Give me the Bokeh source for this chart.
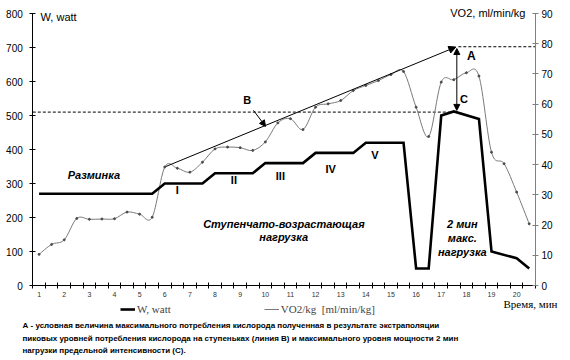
import numpy as np
from bokeh.plotting import figure
from bokeh.models import (Range1d, LinearAxis, FixedTicker, Label, Arrow, NormalHead,
                          Legend, LegendItem, ColumnDataSource)
from bokeh.embed import file_html
from bokeh.resources import INLINE

# ---------------- data ----------------
w_time = [1, 5.5, 6, 7.5, 8, 9.5, 10, 11.5, 12, 13.5, 14, 15.5, 16, 16.5, 17, 17.5, 18.5, 19, 20, 20.5]
w_watt = [270, 270, 300, 300, 330, 330, 360, 360, 390, 390, 420, 420, 50, 50, 500, 512, 490, 100, 80, 50]

vo2_time = [1, 1.5, 2, 2.5, 3, 3.5, 4, 4.5, 5, 5.5, 6, 6.5, 7, 7.5, 8, 8.5, 9, 9.5, 10, 10.5,
            11, 11.5, 12, 12.5, 13, 13.5, 14, 14.5, 15, 15.5, 16, 16.5, 17, 17.5, 18, 18.5,
            19, 19.5, 20, 20.5]
vo2_val = [10.3, 13.6, 15.1, 22.2, 21.9, 22.0, 22.1, 24.3, 23.6, 22.6, 39.2, 38.8, 37.5, 40.8,
           45.2, 45.8, 45.6, 44.7, 47.5, 53.8, 55.2, 51.6, 59.0, 60.1, 61.2, 64.5, 66.2, 67.8,
           69.8, 70.8, 59.0, 49.3, 67.3, 68.1, 70.4, 69.3, 44.1, 40.3, 30.9, 20.4]

x_ticks = list(range(1, 21))
w_ticks = list(range(0, 801, 100))
vo2_ticks = list(range(0, 91, 10))

stage_names = ["I", "II", "III", "IV", "V"]
stage_t = [6.5, 8.75, 10.6, 12.6, 14.36]
stage_w = [281, 309, 323, 343, 385]

line_b_t = [6.05, 17.58]
line_b_vo2 = [39.4, 78.9]
b_ptr_t = [9.53, 10.01]
b_ptr_w = [515, 468]
a_arrow_t = 17.62
a_arrow_w = [697, 515]
w_max_dash = 510
vo2_a_dash = 79

caption = [
    "А - условная величина максимального потребления кислорода полученная в результате экстраполяции",
    "пиковых уровней потребления кислорода  на ступеньках (линия В) и максимального уровня мощности 2 мин",
    "нагрузки предельной интенсивности (С).",
]

SANS = "Liberation Sans"
SERIF = "Liberation Serif"
VO2_COL = "#7a7a7a"
VO2_PT = "#4a4a4a"
NAN = float("nan")

# ---------------- layout calibration (pixels of the page) ----------------
CW, CH = 566, 358                  # canvas size; the frame fills the whole canvas
AX_L, AX_R = 32.3, 535.0           # pixel x of time 0.75 and 20.75
AX_B, AX_T = 285.0, 13.0           # pixel y of 0 and of the top tick (800 W / 90 VO2)
PX_T = (AX_R - AX_L) / 20.0
PX_W = (AX_B - AX_T) / 800.0
PX_V = (AX_B - AX_T) / 90.0


def t_of(px):
    return 0.75 + (px - AX_L) / PX_T


def w_of(py):
    return (AX_B - py) / PX_W


p = figure(width=CW, height=CH, x_range=Range1d(t_of(0), t_of(CW)), y_range=Range1d(w_of(CH), w_of(0)),
           output_backend="svg", toolbar_location=None,
           min_border_left=0, min_border_right=0, min_border_top=0, min_border_bottom=0)
p.extra_y_ranges = {"vo2": Range1d(-(CH - AX_B) / PX_V, AX_B / PX_V)}
p.title.visible = False
p.grid.visible = False
p.outline_line_color = None

xa = p.xaxis[0]
xa.fixed_location = 0
xa.bounds = (0.75, 20.75)
xa.ticker = FixedTicker(ticks=x_ticks, minor_ticks=[0.75 + 0.5 * k for k in range(41)])
xa.major_tick_line_color = None
xa.major_tick_in = 0
xa.major_tick_out = 3
xa.minor_tick_in = 3
xa.minor_tick_out = 3
xa.minor_tick_line_color = "black"
xa.axis_line_color = "black"
xa.major_label_text_font = SANS
xa.major_label_text_font_size = "7px"
xa.major_label_text_color = "#333333"
xa.major_label_standoff = 3

ya = p.yaxis[0]
ya.fixed_location = 0.75
ya.ticker = FixedTicker(ticks=w_ticks)
ya.bounds = (0, 800)
ya.major_tick_in = 3
ya.major_tick_out = 3
ya.minor_tick_line_color = None
ya.major_label_text_font = SANS
ya.major_label_text_font_size = "10px"
ya.major_label_text_color = "black"
ya.major_label_standoff = 7

ra = LinearAxis(y_range_name="vo2", ticker=FixedTicker(ticks=vo2_ticks), bounds=(0, 90),
                fixed_location=20.75)
ra.major_tick_in = 3
ra.major_tick_out = 3
ra.minor_tick_line_color = None
ra.axis_line_color = "#808080"
ra.major_tick_line_color = "#808080"
ra.major_label_text_font = SANS
ra.major_label_text_font_size = "10px"
ra.major_label_text_color = "black"
ra.major_label_standoff = 3
p.add_layout(ra, "right")

# dashed reference lines
p.line([0.75, 17.55], [w_max_dash, w_max_dash], line_color="black", line_width=1, line_dash="3 2")
p.line([17.68, 20.75], [vo2_a_dash, vo2_a_dash], line_color="black", line_width=1,
       line_dash="3 2", y_range_name="vo2")

# VO2 smoothed curve (Catmull-Rom -> cubic Bezier through the read points)
tx = np.array(vo2_time, dtype=float)
ty = np.array(vo2_val, dtype=float)
n = len(tx)
i0 = np.arange(n - 1)
i1 = i0 + 1
ip = np.clip(i0 - 1, 0, n - 1)
inx = np.clip(i0 + 2, 0, n - 1)
bez = ColumnDataSource(dict(
    x0=tx[i0], y0=ty[i0], x1=tx[i1], y1=ty[i1],
    cx0=tx[i0] + (tx[i1] - tx[ip]) / 6, cy0=ty[i0] + (ty[i1] - ty[ip]) / 6,
    cx1=tx[i1] - (tx[inx] - tx[i0]) / 6, cy1=ty[i1] - (ty[inx] - ty[i0]) / 6,
))
p.bezier(x0="x0", y0="y0", x1="x1", y1="y1", cx0="cx0", cy0="cy0", cx1="cx1", cy1="cy1",
         source=bez, line_color=VO2_COL, line_width=1, y_range_name="vo2")
p.scatter(vo2_time, vo2_val, size=2, color=VO2_PT, y_range_name="vo2")
vo2_leg = p.line(x=[NAN], y=[NAN], line_color=VO2_COL, line_width=1, y_range_name="vo2")

# W line
w_line = p.line(w_time, w_watt, line_color="black", line_width=2.6, line_join="miter")

# line B with arrow, pointer to B, A-C double arrow
p.add_layout(Arrow(end=NormalHead(size=7, fill_color="black", line_color="black"),
                   x_start=line_b_t[0], y_start=line_b_vo2[0], x_end=line_b_t[1], y_end=line_b_vo2[1],
                   y_range_name="vo2", line_color="black", line_width=1))
p.add_layout(Arrow(end=NormalHead(size=6, fill_color="black", line_color="black"),
                   x_start=b_ptr_t[0], y_start=b_ptr_w[0], x_end=b_ptr_t[1], y_end=b_ptr_w[1],
                   line_color="black", line_width=1))
p.add_layout(Arrow(start=NormalHead(size=6, fill_color="black", line_color="black"),
                   end=NormalHead(size=6, fill_color="black", line_color="black"),
                   x_start=a_arrow_t, y_start=a_arrow_w[1], x_end=a_arrow_t, y_end=a_arrow_w[0],
                   line_color="black", line_width=1))


def lab(x, y, text, size="11px", style="bold", font=SANS, align="center", base="middle",
        rng="default"):
    p.add_layout(Label(x=x, y=y, text=text, text_font=font, text_font_size=size,
                       text_font_style=style, text_align=align, text_baseline=base,
                       text_color="black", y_range_name=rng))


for t, w, s in zip(stage_t, stage_w, stage_names):
    lab(t, w, s)

lab(9.28, 546, "B")
lab(18.2, 676, "A", size="12px")
lab(17.9, 549, "C")

lab(3.18, 324, "Разминка", style="bold italic")
lab(10.74, 181, "Ступенчато-возрастающая", style="bold italic")
lab(10.73, 142, "нагрузка", style="bold italic")
lab(17.84, 181, "2 мин", style="bold italic")
lab(17.84, 139, "макс.", style="bold italic")
lab(17.84, 98, "нагрузка", style="bold italic")

lab(1.06, 791, "W, watt", style="normal", align="left")
lab(20.35, 90.3, "VO2, ml/min/kg", style="normal", align="right", rng="vo2")

# x axis title and caption below the chart
lab(t_of(530), w_of(303), "Время, мин", style="normal", font=SERIF, size="11px")
for py, line in zip([325, 337.5, 350], caption):
    lab(t_of(22), w_of(py), line, size="8px", style="bold", align="left")

legend = Legend(items=[LegendItem(label="W, watt", renderers=[w_line]),
                       LegendItem(label="VO2/kg  [ml/min/kg]", renderers=[vo2_leg])],
                location=(120, CH - 315), orientation="horizontal", spacing=93,
                glyph_width=15, glyph_height=12, label_height=12, label_standoff=2,
                padding=0, margin=0, border_line_color=None, background_fill_alpha=0,
                label_text_font=SERIF, label_text_font_size="11px")
p.add_layout(legend, "center")

open("out.html", "w").write(file_html(p, INLINE))
